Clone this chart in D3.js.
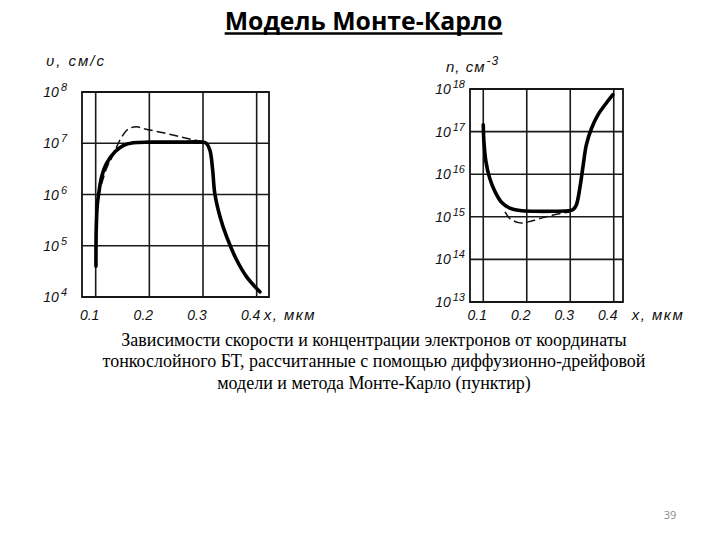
<!DOCTYPE html>
<html>
<head>
<meta charset="utf-8">
<script src="https://cdn.jsdelivr.net/npm/d3@7"></script>
<style>
  html, body { margin: 0; padding: 0; background: #fff; }
  svg { display: block; }
</style>
</head>
<body>
<svg id="chart" width="720" height="540"></svg>
<script>
// ---------- data ----------
const titleText = "Модель Монте-Карло";
const captionLines = [
  "Зависимости скорости и концентрации электронов от координаты",
  "тонкослойного БТ, рассчитанные с помощью диффузионно-дрейфовой",
  "модели и метода Монте-Карло (пунктир)"
];
const pageNumber = "39";

const xTicks = [0.1, 0.2, 0.3, 0.4];
const xTickLabels = ["0.1", "0.2", "0.3", "0.4"];
const xAxisTitle = "x, мкм";

// velocity chart (cm/s), log scale
const vExponents = [4, 5, 6, 7, 8];
const vAxisTitle = "υ, см/с";
const vDiffX = [0.1005, 0.101, 0.103, 0.106, 0.111, 0.12, 0.136, 0.152, 0.17, 0.2, 0.25, 0.3, 0.306, 0.313, 0.318, 0.322, 0.332, 0.344, 0.363, 0.381, 0.406];
const vDiffY = [4.0e4, 2.0e5, 6.3e5, 1.1e6, 2.2e6, 4.0e6, 6.8e6, 9.1e6, 1.02e7, 1.05e7, 1.05e7, 1.05e7, 1.0e7, 7.2e6, 3.0e6, 1.05e6, 3.6e5, 1.5e5, 5.2e4, 2.5e4, 1.26e4];
const vMcX = [0.111, 0.12, 0.13, 0.139, 0.148, 0.161, 0.176, 0.192, 0.226, 0.263, 0.298];
const vMcY = [1.6e6, 3.2e6, 5.2e6, 8.5e6, 1.3e7, 1.9e7, 2.1e7, 1.9e7, 1.6e7, 1.3e7, 1.07e7];

// concentration chart (cm^-3), log scale
const nExponents = [13, 14, 15, 16, 17, 18];
const nAxisTitle = "n, см";
const nAxisTitleSup = "-3";
const nDiffX = [0.1, 0.1015, 0.106, 0.115, 0.127, 0.142, 0.161, 0.184, 0.22, 0.26, 0.3, 0.307, 0.314, 0.322, 0.33, 0.337, 0.349, 0.364, 0.383, 0.398];
const nDiffY = [1.45e17, 5.9e16, 2.0e16, 7.9e15, 3.9e15, 2.2e15, 1.6e15, 1.4e15, 1.35e15, 1.35e15, 1.4e15, 1.5e15, 1.9e15, 4.7e15, 1.7e16, 4.9e16, 1.2e17, 2.5e17, 4.7e17, 7.4e17];
const nMcX = [0.15, 0.161, 0.184, 0.203, 0.23, 0.261, 0.299];
const nMcY = [1.3e15, 9.1e14, 7.2e14, 7.6e14, 9.1e14, 1.1e15, 1.3e15];

// axis extents
const vXDomain = [0.0745, 0.423];
const vYDomain = [1e4, 1e8];
const nXDomain = [0.0695, 0.4213];
const nYDomain = [1e13, 1e18];

// ---------- drawing ----------
const svg = d3.select("#chart");
const labelFont = "'Liberation Sans', Arial, sans-serif";

// title
const title = svg.append("text")
  .attr("x", 363.5).attr("y", 29.5)
  .attr("text-anchor", "middle")
  .attr("font-family", "'Open Sans', Lato, sans-serif")
  .attr("font-weight", "bold")
  .attr("font-size", 24.8)
  .attr("fill", "#000")
  .text(titleText);
const tb = title.node().getBBox();
svg.append("line")
  .attr("x1", tb.x).attr("x2", tb.x + tb.width)
  .attr("y1", 33.5).attr("y2", 33.5)
  .attr("stroke", "#000").attr("stroke-width", 2.6);

function drawPanel(cfg) {
  const x = d3.scaleLinear().domain(cfg.xDomain).range([cfg.left, cfg.right]);
  const y = d3.scaleLog().domain(cfg.yDomain).range([cfg.bottom, cfg.top]);
  const g = svg.append("g");

  // grid
  g.selectAll("line.vg").data(xTicks).join("line")
    .attr("x1", d => x(d)).attr("x2", d => x(d))
    .attr("y1", cfg.top).attr("y2", cfg.bottom)
    .attr("stroke", "#1a1a1a").attr("stroke-width", 1.6);
  g.selectAll("line.hg").data(cfg.exps).join("line")
    .attr("x1", cfg.left).attr("x2", cfg.right)
    .attr("y1", d => y(Math.pow(10, d))).attr("y2", d => y(Math.pow(10, d)))
    .attr("stroke", "#1a1a1a").attr("stroke-width", 1.6);
  // frame
  g.append("rect")
    .attr("x", cfg.left).attr("y", cfg.top)
    .attr("width", cfg.right - cfg.left).attr("height", cfg.bottom - cfg.top)
    .attr("fill", "none").attr("stroke", "#111").attr("stroke-width", 1.8);

  // y tick labels
  const yl = g.selectAll("text.yl").data(cfg.exps).join("text")
    .attr("x", cfg.left - cfg.labelGap)
    .attr("y", d => y(Math.pow(10, d)) + 5)
    .attr("text-anchor", "end")
    .attr("font-family", labelFont).attr("font-style", "italic")
    .attr("font-size", 14).attr("fill", "#111");
  yl.append("tspan").text("10");
  yl.append("tspan").attr("dy", -6).attr("dx", 2).attr("font-size", 11).text(d => String(d));

  // x tick labels
  g.selectAll("text.xl").data(xTicks).join("text")
    .attr("x", d => x(d) - 6)
    .attr("y", 320)
    .attr("text-anchor", "middle")
    .attr("font-family", labelFont).attr("font-style", "italic")
    .attr("font-size", 14).attr("fill", "#111")
    .text((d, i) => xTickLabels[i]);
  g.append("text")
    .attr("x", x(0.4) + cfg.xTitleGap).attr("y", 320)
    .attr("font-family", labelFont).attr("font-style", "italic")
    .attr("font-size", 15).attr("letter-spacing", 1.5).attr("fill", "#111")
    .text(xAxisTitle);

  // curves
  const line = d3.line().x(d => x(d[0])).y(d => y(d[1])).curve(d3.curveCatmullRom.alpha(0.5));
  g.append("path")
    .attr("d", line(d3.zip(cfg.mcX, cfg.mcY)))
    .attr("fill", "none").attr("stroke", "#111").attr("stroke-width", 1.5)
    .attr("stroke-dasharray", "9,4");
  g.append("path")
    .attr("d", line(d3.zip(cfg.diffX, cfg.diffY)))
    .attr("fill", "none").attr("stroke", "#000").attr("stroke-width", 3.6)
    .attr("stroke-linejoin", "round").attr("stroke-linecap", "round");
  return { x, y, g };
}

drawPanel({
  left: 82, right: 269, top: 92, bottom: 297,
  xDomain: vXDomain, yDomain: vYDomain, exps: vExponents, labelGap: 15, xTitleGap: 7,
  diffX: vDiffX, diffY: vDiffY, mcX: vMcX, mcY: vMcY
});
svg.append("text")
  .attr("x", 46).attr("y", 66)
  .attr("font-family", labelFont).attr("font-style", "italic")
  .attr("font-size", 15).attr("letter-spacing", 2).attr("fill", "#111")
  .text(vAxisTitle);

drawPanel({
  left: 470, right: 623, top: 89, bottom: 302,
  xDomain: nXDomain, yDomain: nYDomain, exps: nExponents, labelGap: 5, xTitleGap: 18,
  diffX: nDiffX, diffY: nDiffY, mcX: nMcX, mcY: nMcY
});
const nt = svg.append("text")
  .attr("x", 446).attr("y", 72)
  .attr("font-family", labelFont).attr("font-style", "italic")
  .attr("font-size", 15).attr("letter-spacing", 1).attr("fill", "#111");
nt.append("tspan").text(nAxisTitle);
nt.append("tspan").attr("dy", -7).attr("dx", 1).attr("font-size", 12).text(nAxisTitleSup);

// caption
svg.selectAll("text.cap").data(captionLines).join("text")
  .attr("x", 374)
  .attr("y", (d, i) => 346 + i * 21.3)
  .attr("text-anchor", "middle")
  .attr("font-family", "'Liberation Serif', 'DejaVu Serif', serif")
  .attr("font-size", 18).attr("fill", "#000")
  .text(d => d);

// page number
svg.append("text")
  .attr("x", 670).attr("y", 519)
  .attr("text-anchor", "middle")
  .attr("font-family", "'Open Sans', sans-serif")
  .attr("font-size", 11).attr("fill", "#8a8a8a")
  .text(pageNumber);
</script>
</body>
</html>
